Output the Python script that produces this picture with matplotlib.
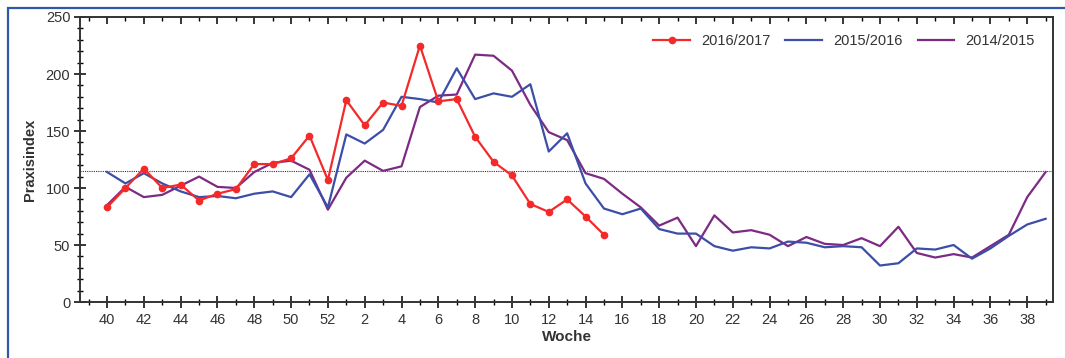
import matplotlib.pyplot as plt
from matplotlib.patches import Rectangle
from matplotlib.ticker import FixedLocator, MultipleLocator

plt.rcParams['font.family'] = ['Liberation Sans', 'DejaVu Sans']

# Kalenderwochen der Saison (40..52, 1..39)
wochen = list(range(40, 53)) + list(range(1, 40))

# 2016/2017 bis Woche 15
s2016 = [83, 100, 117, 100, 103, 89, 95, 99, 121, 121, 126, 146, 107,
         177, 155, 175, 172, 225, 176, 178, 145, 123, 111, 86, 79, 90, 75, 59]

s2015 = [114, 104, 113, 104, 97, 92, 93, 91, 95, 97, 92, 112, 83,
         147, 139, 151, 180, 178, 175, 205, 178, 183, 180, 191, 132, 148, 104,
         82, 77, 82, 64, 60, 60, 49, 45, 48, 47, 53, 52, 48, 49, 48, 32, 34,
         47, 46, 50, 38, 47, 58, 68, 73]

s2014 = [85, 101, 92, 94, 102, 110, 101, 100, 114, 122, 124, 116, 81,
         109, 124, 115, 119, 171, 181, 182, 217, 216, 203, 173, 149, 142, 113,
         108, 95, 83, 67, 74, 49, 76, 61, 63, 59, 49, 57, 51, 50, 56, 49, 66,
         43, 39, 42, 39, 49, 59, 92, 114]

schwelle = 115

fig = plt.figure(figsize=(10.65, 3.58), dpi=100)
ax = fig.add_axes([80 / 1065, 1 - 302 / 358, 973 / 1065, 285 / 358])

x16 = list(range(len(s2016)))
x15 = list(range(len(s2015)))
x14 = list(range(len(s2014)))

ax.plot(x16, s2016, color='#f42a2a', lw=1.6, marker='o', ms=4.5,
        label='2016/2017', zorder=4)
ax.plot(x15, s2015, color='#3b4ea8', lw=1.6, label='2015/2016', zorder=3)
ax.plot(x14, s2014, color='#7d2a84', lw=1.6, label='2014/2015', zorder=2)
ax.axhline(schwelle, color='#333333', lw=0.8, ls=(0, (1, 1)), zorder=1)

ax.set_xlim(-1.47, 51.4)
ax.set_ylim(0, 250)

major = list(range(0, len(wochen), 2))
minor = list(range(-1, len(wochen), 2))
ax.xaxis.set_major_locator(FixedLocator(major))
ax.set_xticklabels([str(wochen[i]) for i in major])
ax.xaxis.set_minor_locator(FixedLocator(minor))
ax.yaxis.set_major_locator(MultipleLocator(50))
ax.yaxis.set_minor_locator(MultipleLocator(10))

ax.tick_params(axis='x', which='major', direction='inout', length=8, width=1.1,
               labelsize=10.5, labelcolor='#333333', pad=4)
ax.tick_params(axis='x', which='minor', direction='inout', length=4, width=1)
ax.tick_params(axis='y', which='major', direction='inout', length=8, width=1.1,
               labelsize=10.5, labelcolor='#333333', pad=3)
ax.tick_params(axis='y', which='minor', direction='inout', length=5, width=1)

# obere Achse: Striche nur nach innen
top = ax.twiny()
top.set_xlim(ax.get_xlim())
top.xaxis.set_major_locator(FixedLocator(major))
top.xaxis.set_minor_locator(FixedLocator(minor))
top.tick_params(axis='x', which='major', direction='in', length=5, width=1.1,
                labeltop=False)
top.tick_params(axis='x', which='minor', direction='in', length=3, width=1)

for a in (ax, top):
    for sp in a.spines.values():
        sp.set_color('#333333')
        sp.set_linewidth(1.2)

ax.set_xlabel('Woche', fontsize=11, fontweight='bold', color='#333333',
              labelpad=2)
ax.set_ylabel('Praxisindex', fontsize=10.5, fontweight='bold',
              color='#333333', labelpad=6)

ax.legend(loc='upper right', bbox_to_anchor=(0.995, 0.985), ncol=3,
          frameon=False, fontsize=10.5, handlelength=2.5, columnspacing=1.0,
          labelcolor='#333333')

# blauer Rahmen um die Grafik
fig.patches.append(Rectangle((8 / 1065, -0.1), 1.2, 1 - 8 / 358 + 0.1,
                             transform=fig.transFigure, fill=False,
                             edgecolor='#2f58a5', lw=1.6))

plt.savefig('out.png', dpi=100)
